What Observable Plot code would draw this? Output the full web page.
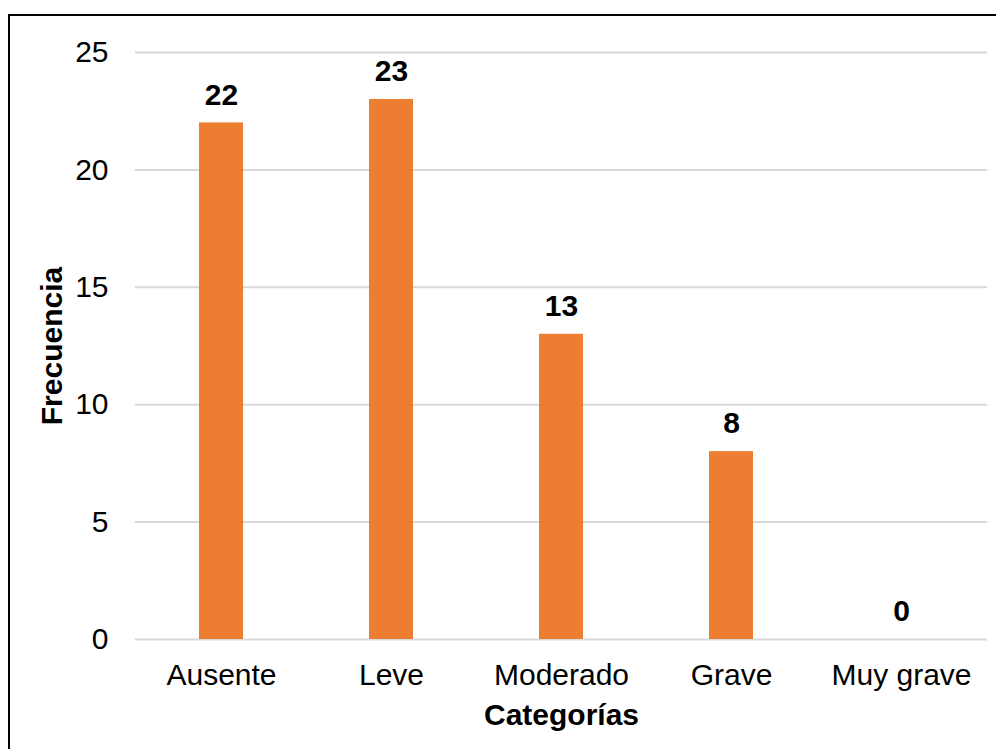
<!DOCTYPE html>
<html>
<head>
<meta charset="utf-8">
<script src="https://cdn.jsdelivr.net/npm/d3@7"></script>
<script src="https://cdn.jsdelivr.net/npm/@observablehq/plot@0.6"></script>
<style>
  html, body { margin: 0; padding: 0; background: #fff; }
  #wrap { position: relative; width: 996px; height: 749px; overflow: hidden; }
  #border { position: absolute; left: 8px; top: 14px; width: 1000px; height: 800px;
            border-left: 2px solid #000; border-top: 2px solid #000; box-sizing: border-box; pointer-events: none; }
  #chart { position: absolute; left: 0; top: 0; }
</style>
</head>
<body>
<div id="wrap"><div id="chart"></div><div id="border"></div></div>
<script>
const categorias = ["Ausente", "Leve", "Moderado", "Grave", "Muy grave"];
const frecuencias = [22, 23, 13, 8, 0];
const yTicks = [0, 5, 10, 15, 20, 25];
const yTitle = "Frecuencia";
const xTitle = "Categorías";

const data = categorias.map((c, i) => ({categoria: c, frecuencia: frecuencias[i]}));
const font = "'Liberation Sans', Arial, Helvetica, sans-serif";

const chart = Plot.plot({
  width: 996,
  height: 749,
  marginLeft: 135,
  marginRight: 9,
  marginTop: 52,
  marginBottom: 110,
  style: {fontFamily: font, fontSize: "30px", color: "#000", background: "transparent", overflow: "visible"},
  x: {domain: categorias, paddingInner: 0.742, paddingOuter: 0.371, label: null},
  y: {domain: [0, 25], ticks: yTicks, label: null},
  marks: [
    Plot.gridY(yTicks, {stroke: "#d9d9d9", strokeOpacity: 1, strokeWidth: 2}),
    Plot.barY(data, {x: "categoria", y: "frecuencia", fill: "#ED7D31"}),
    Plot.text(data, {x: "categoria", y: "frecuencia", text: d => String(d.frecuencia), dy: -28,
                     fontWeight: "bold", fontSize: 30, fill: "#000"}),
    Plot.axisY(yTicks, {tickSize: 0, tickPadding: 27, fontSize: 30, label: null}),
    Plot.axisX({tickSize: 0, tickPadding: 24, fontSize: 30, label: null}),
    Plot.text([yTitle], {text: d => d, frameAnchor: "left", textAnchor: "middle", lineAnchor: "middle",
                         rotate: -90, dx: -83, fontWeight: "bold", fontSize: 30, fill: "#000"}),
    Plot.text([xTitle], {text: d => d, frameAnchor: "bottom", textAnchor: "middle", lineAnchor: "middle",
                         dy: 76, fontWeight: "bold", fontSize: 30, fill: "#000"})
  ]
});
document.getElementById("chart").appendChild(chart);
</script>
</body>
</html>
